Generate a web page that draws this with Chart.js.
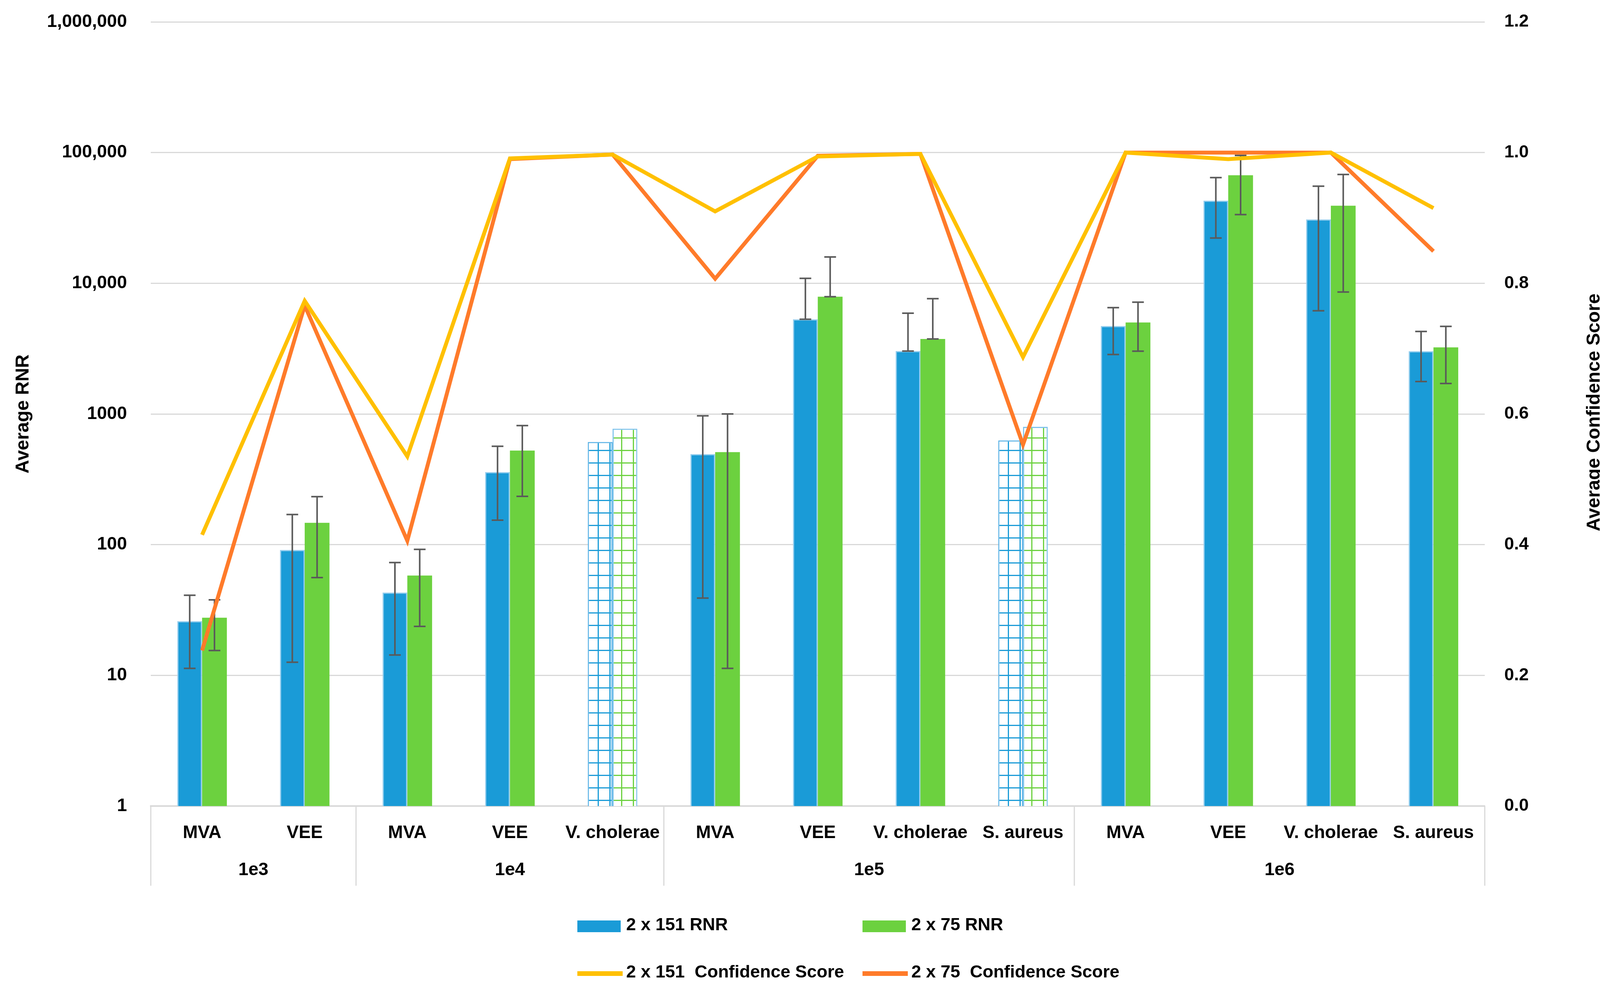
<!DOCTYPE html>
<html><head><meta charset="utf-8">
<script src="https://cdn.jsdelivr.net/npm/chart.js@4"></script>
<style>html,body{margin:0;padding:0;background:#fff;} #wrap{width:4156px;height:2553px;}</style>
</head><body><div id="wrap"><canvas id="c" width="4156" height="2553"></canvas></div>
<script>
// ---------- data ----------
const categories = ["MVA","VEE","MVA","VEE","V. cholerae","MVA","VEE","V. cholerae","S. aureus","MVA","VEE","V. cholerae","S. aureus"];
const groups = ["1e3","1e4","1e5","1e6"];
const groupSizes = [2,3,4,4];
const hatched = [false,false,false,false,true,false,false,false,true,false,false,false,false];

const rnr151 = [26, 91, 43, 359, 610, 493, 5300, 3030, 627, 4710, 42900, 30800, 3020];
const rnr151High = [41, 170, 73, 566, null, 968, 10900, 5900, null, 6510, 64400, 55300, 4280];
const rnr151Low = [11.3, 12.6, 14.3, 154, null, 39, 5300, 3030, null, 2850, 22200, 6160, 1770];

const rnr75 = [27.6, 147, 58, 525, 771, 510, 7890, 3750, 797, 5010, 67100, 39200, 3230];
const rnr75High = [37.8, 233, 92, 815, null, 1000, 15900, 7620, null, 7170, 95000, 68000, 4680];
const rnr75Low = [15.5, 56, 23.7, 234, null, 11.3, 7890, 3750, null, 3020, 33500, 8570, 1710];

const conf151 = [0.415, 0.773, 0.535, 0.991, 0.997, 0.910, 0.994, 0.998, 0.687, 1.0, 0.990, 1.0, 0.915];
const conf75 = [0.238, 0.766, 0.406, 0.990, 0.997, 0.807, 0.995, 0.998, 0.553, 1.0, 1.0, 1.0, 0.849];

const leftTickValues = [1, 10, 100, 1000, 10000, 100000, 1000000];
const leftTickLabels = ["1", "10", "100", "1000", "10,000", "100,000", "1,000,000"];
const rightTickValues = [0, 0.2, 0.4, 0.6, 0.8, 1.0, 1.2];

const leftTitle = "Average RNR";
const rightTitle = "Average Confidence Score";
const seriesNames = ["2 x 151 RNR", "2 x 75 RNR", "2 x 151  Confidence Score", "2 x 75  Confidence Score"];

// ---------- styles ----------
const FONT = '"Liberation Sans", Arial, sans-serif';
const BLUE = '#1a9bd7', GREEN = '#6cd13f', YELLOW = '#ffc000', ORANGE = '#ff7b2a';
const BLUE_EDGE = '#94cdee';

function makePattern(color) {
  const p = document.createElement('canvas');
  p.width = 30; p.height = 32;
  const g = p.getContext('2d');
  g.fillStyle = '#fff'; g.fillRect(0, 0, 30, 32);
  g.fillStyle = color;
  g.fillRect(0, 0, 3, 32);
  g.fillRect(0, 0, 30, 3);
  return document.getElementById('c').getContext('2d').createPattern(p, 'repeat');
}
const bluePattern = makePattern(BLUE);
const greenPattern = makePattern(GREEN);

// ---------- plugins ----------
const errorBars = {
  id: 'errorBars',
  afterDatasetDraw(chart, args) {
    const ds = chart.data.datasets[args.index];
    if (!ds.errHigh) return;
    const ys = chart.scales.y, ctx = chart.ctx;
    ctx.save();
    ctx.strokeStyle = '#5a5a5a';
    ctx.lineWidth = 4;
    args.meta.data.forEach((bar, i) => {
      const hi = ds.errHigh[i], lo = ds.errLow[i];
      if (hi == null) return;
      const x = bar.x, yh = ys.getPixelForValue(hi), yl = ys.getPixelForValue(lo);
      ctx.beginPath();
      ctx.moveTo(x, yh); ctx.lineTo(x, yl);
      ctx.moveTo(x - 15, yh); ctx.lineTo(x + 15, yh);
      ctx.moveTo(x - 15, yl); ctx.lineTo(x + 15, yl);
      ctx.stroke();
    });
    ctx.restore();
  }
};

const decorations = {
  id: 'decorations',
  afterDraw(chart) {
    const ctx = chart.ctx, xs = chart.scales.x, area = chart.chartArea;
    const w = (xs.right - xs.left) / categories.length;
    ctx.save();
    // group dividers
    ctx.strokeStyle = '#d9d9d9';
    ctx.lineWidth = 3;
    let idx = 0;
    const bounds = [0];
    groupSizes.forEach(s => { idx += s; bounds.push(idx); });
    bounds.forEach(b => {
      const x = xs.left + b * w;
      ctx.beginPath(); ctx.moveTo(x, area.bottom); ctx.lineTo(x, 2268); ctx.stroke();
    });
    // group labels
    ctx.fillStyle = '#000';
    ctx.font = 'bold 46px ' + FONT;
    ctx.textAlign = 'center'; ctx.textBaseline = 'middle';
    groups.forEach((g, i) => {
      const cx = xs.left + (bounds[i] + bounds[i + 1]) / 2 * w;
      ctx.fillText(g, cx, 2228);
    });
    // axis titles
    ctx.font = 'bold 48px ' + FONT;
    ctx.save(); ctx.translate(60, 1060); ctx.rotate(-Math.PI / 2); ctx.fillText(leftTitle, 0, 0); ctx.restore();
    ctx.save(); ctx.translate(4082, 1056); ctx.rotate(-Math.PI / 2); ctx.fillText(rightTitle, 0, 0); ctx.restore();
    // legend
    const ds = chart.data.datasets;
    const items = [
      {d: ds[0], x: 1478, y: 2372, bar: true},
      {d: ds[1], x: 2208, y: 2372, bar: true},
      {d: ds[2], x: 1478, y: 2493, bar: false},
      {d: ds[3], x: 2208, y: 2493, bar: false}
    ];
    ctx.font = 'bold 45px ' + FONT;
    ctx.textAlign = 'left';
    items.forEach(it => {
      if (it.bar) {
        ctx.fillStyle = it.d.legendColor;
        ctx.fillRect(it.x, it.y - 15, 111, 30);
      } else {
        ctx.fillStyle = it.d.borderColor;
        ctx.fillRect(it.x, it.y - 6, 116, 12);
      }
      ctx.fillStyle = '#000';
      ctx.fillText(it.d.label, it.x + 125, it.y - 2);
    });
    ctx.restore();
  }
};

// ---------- chart ----------
new Chart(document.getElementById('c'), {
  data: {
    labels: categories,
    datasets: [
      {
        type: 'bar', label: seriesNames[0], data: rnr151, yAxisID: 'y', order: 2,
        errHigh: rnr151High, errLow: rnr151Low, legendColor: BLUE,
        backgroundColor: c => hatched[c.dataIndex] ? bluePattern : BLUE,
        borderColor: c => hatched[c.dataIndex] ? '#5fb4e6' : BLUE_EDGE,
        borderWidth: 3, borderSkipped: 'start',
        categoryPercentage: 0.483, barPercentage: 1.0
      },
      {
        type: 'bar', label: seriesNames[1], data: rnr75, yAxisID: 'y', order: 2,
        errHigh: rnr75High, errLow: rnr75Low, legendColor: GREEN,
        backgroundColor: c => hatched[c.dataIndex] ? greenPattern : GREEN,
        borderColor: c => hatched[c.dataIndex] ? '#7fc3ec' : GREEN,
        borderWidth: c => hatched[c.dataIndex] ? 3 : 0, borderSkipped: 'start',
        categoryPercentage: 0.483, barPercentage: 1.0
      },
      {
        type: 'line', label: seriesNames[2], data: conf151, yAxisID: 'y1', order: 0,
        borderColor: YELLOW, backgroundColor: YELLOW, borderWidth: 10, pointRadius: 0,
        tension: 0, fill: false, borderJoinStyle: 'miter'
      },
      {
        type: 'line', label: seriesNames[3], data: conf75, yAxisID: 'y1', order: 0,
        borderColor: ORANGE, backgroundColor: ORANGE, borderWidth: 10, pointRadius: 0,
        tension: 0, fill: false, borderJoinStyle: 'miter'
      }
    ]
  },
  options: {
    responsive: false, animation: false, devicePixelRatio: 1,
    layout: {padding: {top: 56, left: 0, right: 0, bottom: 0}},
    plugins: {legend: {display: false}, tooltip: {enabled: false}, title: {display: false}},
    scales: {
      x: {
        type: 'category', position: 'bottom', offset: true,
        grid: {display: false},
        border: {display: true, color: '#d9d9d9', width: 4},
        ticks: {font: {family: FONT, size: 46, weight: 'bold'}, color: '#000', padding: 34,
                maxRotation: 0, minRotation: 0, autoSkip: false},
        afterFit: s => { s.height = 489; s.paddingLeft = 0; s.paddingRight = 0; }
      },
      y: {
        type: 'logarithmic', position: 'left', min: 1, max: 1000000,
        afterBuildTicks: s => { s.ticks = leftTickValues.map(v => ({value: v, major: false})); },
        ticks: {font: {family: FONT, size: 46, weight: 'bold'}, color: '#000', padding: 61,
                callback: (v) => { const i = leftTickValues.indexOf(v); return i >= 0 ? leftTickLabels[i] : ''; }},
        grid: {color: '#d9d9d9', lineWidth: 3, drawTicks: false},
        border: {display: false},
        afterFit: s => { s.width = 386; s.paddingTop = 0; s.paddingBottom = 0; }
      },
      y1: {
        type: 'linear', position: 'right', min: 0, max: 1.2,
        afterBuildTicks: s => { s.ticks = rightTickValues.map(v => ({value: v})); },
        ticks: {font: {family: FONT, size: 45, weight: 'bold'}, color: '#000', padding: 50,
                callback: v => Number(v).toFixed(1)},
        grid: {display: false, drawTicks: false},
        border: {display: false},
        afterFit: s => { s.width = 355; s.paddingTop = 0; s.paddingBottom = 0; }
      }
    }
  },
  plugins: [errorBars, decorations]
});
</script>
</body></html>
